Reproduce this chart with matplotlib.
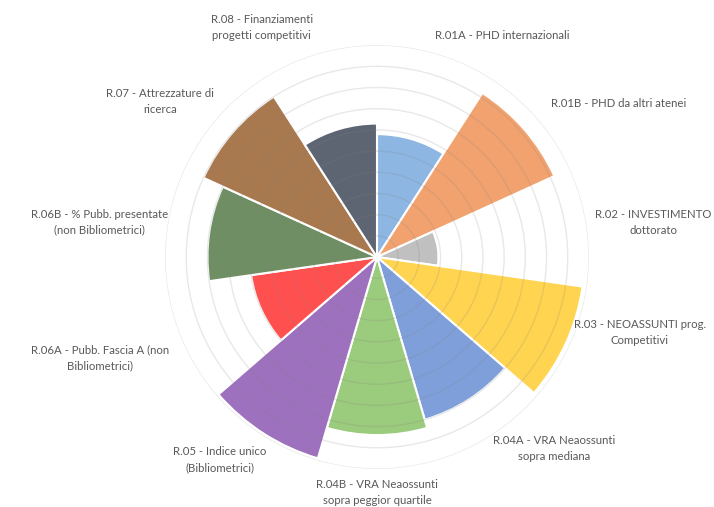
import numpy as np
import matplotlib.pyplot as plt

# Categories and values (scale 0-10)
labels = ["R.01A - PHD internazionali",
          "R.01B - PHD da altri atenei",
          "R.02 - INVESTIMENTO\ndottorato",
          "R.03 - NEOASSUNTI prog.\nCompetitivi",
          "R.04A - VRA Neaossunti\nsopra mediana",
          "R.04B - VRA Neaossunti\nsopra peggior quartile",
          "R.05 - Indice unico\n(Bibliometrici)",
          "R.06A - Pubb. Fascia A (non\nBibliometrici)",
          "R.06B - % Pubb. presentate\n(non Bibliometrici)",
          "R.07 - Attrezzature di\nricerca",
          "R.08 - Finanziamenti\nprogetti competitivi"]
values = [5.8, 9.2, 2.9, 9.8, 8.0, 8.4, 9.9, 6.0, 8.0, 9.0, 6.3]
colors = ["#8DB6E2", "#F1A26E", "#C0C0C0", "#FFD451", "#7E9FDA", "#9BCB7C",
          "#9D71BE", "#FF5050", "#6F8E63", "#A8794F", "#5E6572"]

# label placement (angle in degrees clockwise from top, radius)
label_angles = [29.5, 57.6, 82.9, 106.1, 137.3, 180.0, 217.7, 250.0, 277.2, 305.7, 333.3]
label_radii = [12.0, 13.5, 13.15, 12.9, 12.3, 11.1, 12.1, 13.9, 13.2, 12.6, 12.1]

n = len(values)
width = 2 * np.pi / n
theta = np.arange(n) * width

fig = plt.figure(figsize=(7.14, 5.07), dpi=100)
ax = fig.add_axes([0.231, 0.075, 0.594, 0.836], projection="polar")
ax.set_theta_zero_location("N")
ax.set_theta_direction(-1)

ax.bar(theta, values, width=width, align="edge", color=colors,
       edgecolor="white", linewidth=1.5, zorder=1)

ax.set_ylim(0, 10)
ax.set_yticks(np.arange(1, 11))
ax.set_yticklabels([])
ax.set_xticks([])
ax.spines["polar"].set_visible(False)
ax.grid(True, axis="y", color="gray", alpha=0.18, linewidth=1.0)
ax.set_axisbelow(False)

for lab, a, r in zip(labels, label_angles, label_radii):
    ax.text(np.deg2rad(a), r, lab, ha="center", va="center",
            fontsize=8.2, family=["Lato", "DejaVu Sans"], color="#595959",
            linespacing=1.55)

fig.savefig("out.png", dpi=100)
